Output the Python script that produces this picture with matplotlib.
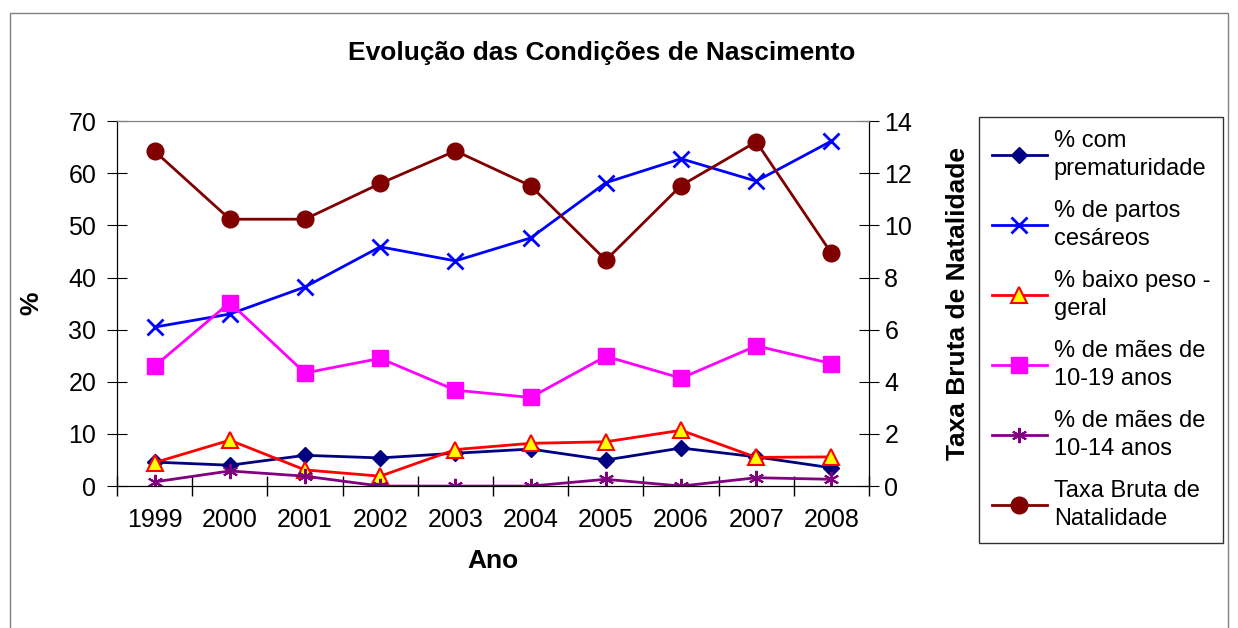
import matplotlib
matplotlib.use("Agg")
import matplotlib.pyplot as plt
from matplotlib.patches import Rectangle

plt.rcParams['font.family'] = ['Liberation Sans', 'DejaVu Sans']

anos = ['1999', '2000', '2001', '2002', '2003', '2004', '2005', '2006', '2007', '2008']
prematuridade = [4.6, 4.0, 5.9, 5.4, 6.3, 7.1, 5.0, 7.3, 5.6, 3.5]
cesareos = [30.5, 33.0, 38.2, 45.9, 43.2, 47.6, 58.2, 62.8, 58.5, 66.2]
baixo_peso = [4.5, 8.8, 3.1, 1.9, 7.0, 8.2, 8.5, 10.7, 5.5, 5.6]
maes_10_19 = [23.0, 35.2, 21.7, 24.5, 18.4, 17.0, 24.9, 20.7, 26.9, 23.5]
maes_10_14 = [0.8, 2.9, 1.9, 0.0, 0.0, 0.0, 1.3, 0.0, 1.6, 1.3]
taxa_bruta = [12.85, 10.24, 10.24, 11.61, 12.86, 11.52, 8.67, 11.53, 13.21, 8.93]

x = list(range(len(anos)))

fig = plt.figure(figsize=(12.38, 6.28), dpi=100)
ax = fig.add_axes([0.0945, 0.226, 0.6075, 0.581])
ax2 = ax.twinx()

h1, = ax.plot(x, prematuridade, color='#000080', lw=2, marker='D', ms=8,
              label='% com\nprematuridade')
h2, = ax.plot(x, cesareos, color='#0000FF', lw=2, marker='x', ms=11, mew=2,
              label='% de partos\ncesáreos')
h3, = ax.plot(x, baixo_peso, color='#FF0000', lw=2, marker='^', ms=11,
              mfc='#FFFF00', mec='#FF0000', mew=1.5, label='% baixo peso -\ngeral')
h4, = ax.plot(x, maes_10_19, color='#FF00FF', lw=2, marker='s', ms=12,
              label='% de mães de\n10-19 anos')
h5, = ax.plot(x, maes_10_14, color='#800080', lw=2, marker=(6, 2, 0), ms=11, mew=1.5,
              label='% de mães de\n10-14 anos')
h6, = ax2.plot(x, taxa_bruta, color='#800000', lw=2, marker='o', ms=12,
               label='Taxa Bruta de\nNatalidade')

ax.set_xlim(-0.5, 9.5)
ax.set_ylim(0, 70)
ax2.set_ylim(0, 14)
ax.set_yticks(range(0, 71, 10))
ax2.set_yticks(range(0, 15, 2))
ax.set_xticks(x)
ax.set_xticklabels(anos)
ax.set_xticks([i - 0.5 for i in range(len(anos) + 1)], minor=True)
ax.tick_params(axis='x', which='major', length=0, labelsize=18, pad=16)
ax.tick_params(axis='x', which='minor', length=14, direction='inout', width=1)
ax.tick_params(axis='y', length=14, direction='inout', labelsize=18, pad=8)
ax2.tick_params(axis='y', length=14, direction='inout', labelsize=18, pad=4)

for a in (ax, ax2):
    a.spines['top'].set_color('#808080')
    a.spines['left'].set_color('black')
    a.spines['right'].set_color('black')
    a.spines['bottom'].set_color('black')

ax.set_xlabel('Ano', fontsize=19, fontweight='bold', labelpad=12)
ax.set_ylabel('%', fontsize=19, fontweight='bold', labelpad=18)
ax2.set_ylabel('Taxa Bruta de Natalidade', fontsize=19, fontweight='bold', labelpad=24)

fig.text(0.486, 0.915, 'Evolução das Condições de Nascimento', ha='center', va='center',
         fontsize=19, fontweight='bold')

leg = fig.legend(handles=[h1, h2, h3, h4, h5, h6], loc='upper left',
                 bbox_to_anchor=(0.791, 0.814), fontsize=17, frameon=True,
                 fancybox=False, edgecolor='black', handlelength=2.3,
                 labelspacing=0.85, handletextpad=0.3, borderpad=0.55,
                 borderaxespad=0)
leg.get_frame().set_linewidth(1)
for t in leg.get_texts():
    t.set_linespacing(1.35)

fig.patches.append(Rectangle((0.008, -0.05), 0.984, 1.03, transform=fig.transFigure,
                             fill=False, edgecolor='#808080', lw=1))

fig.savefig('out.png', dpi=100)
